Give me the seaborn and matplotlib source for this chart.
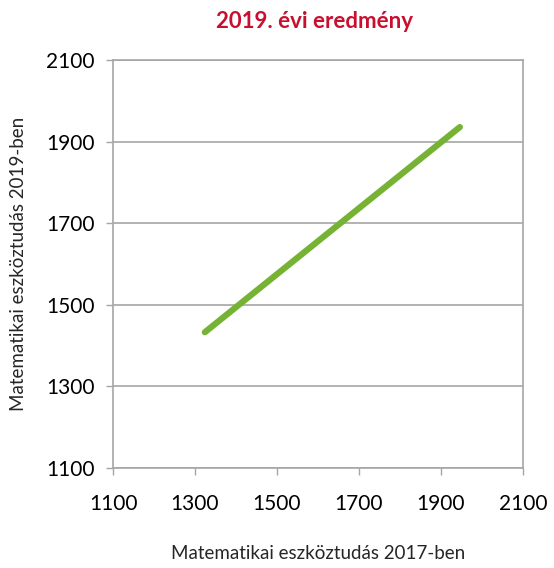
import pandas as pd
import numpy as np
import matplotlib.pyplot as plt
import seaborn as sns

# adatok
eredmeny_2017 = [1324, 1946]
eredmeny_2019 = [1433, 1936]
tick_values = [1100, 1300, 1500, 1700, 1900, 2100]

df = pd.DataFrame({'x': eredmeny_2017, 'y': eredmeny_2019})

sns.set_theme(style='white')
plt.rcParams['font.family'] = ['Lato', 'DejaVu Sans']

fig = plt.figure(figsize=(5.54, 5.68), dpi=100)
ax = fig.add_axes([0.204, 0.176, 0.740, 0.718])

sns.lineplot(data=df, x='x', y='y', ax=ax, color='#76B233', linewidth=4.5,
             solid_capstyle='round', zorder=3)

ax.set_xlim(1100, 2100)
ax.set_ylim(1100, 2100)
ax.set_xticks(tick_values)
ax.set_yticks(tick_values)
ax.tick_params(axis='both', direction='out', length=5, width=1, color='#A6A6A6',
               labelsize=15, labelcolor='black', pad=8,
               bottom=True, left=True)
ax.tick_params(axis='x', pad=14)
ax.grid(axis='y', color='#A6A6A6', linewidth=1.2)
ax.grid(axis='x', visible=False)
for s in ax.spines.values():
    s.set_color('#A6A6A6')
    s.set_linewidth(1.2)

ax.set_xlabel('Matematikai eszköztudás 2017-ben', fontsize=13.5, labelpad=22)
ax.set_ylabel('Matematikai eszköztudás 2019-ben', fontsize=13.5, labelpad=14)
fig.text(0.568, 0.962, '2019. évi eredmény', ha='center', va='center',
         fontsize=16, fontweight='bold', color='#C8102E')

fig.savefig('out.png', dpi=100)
